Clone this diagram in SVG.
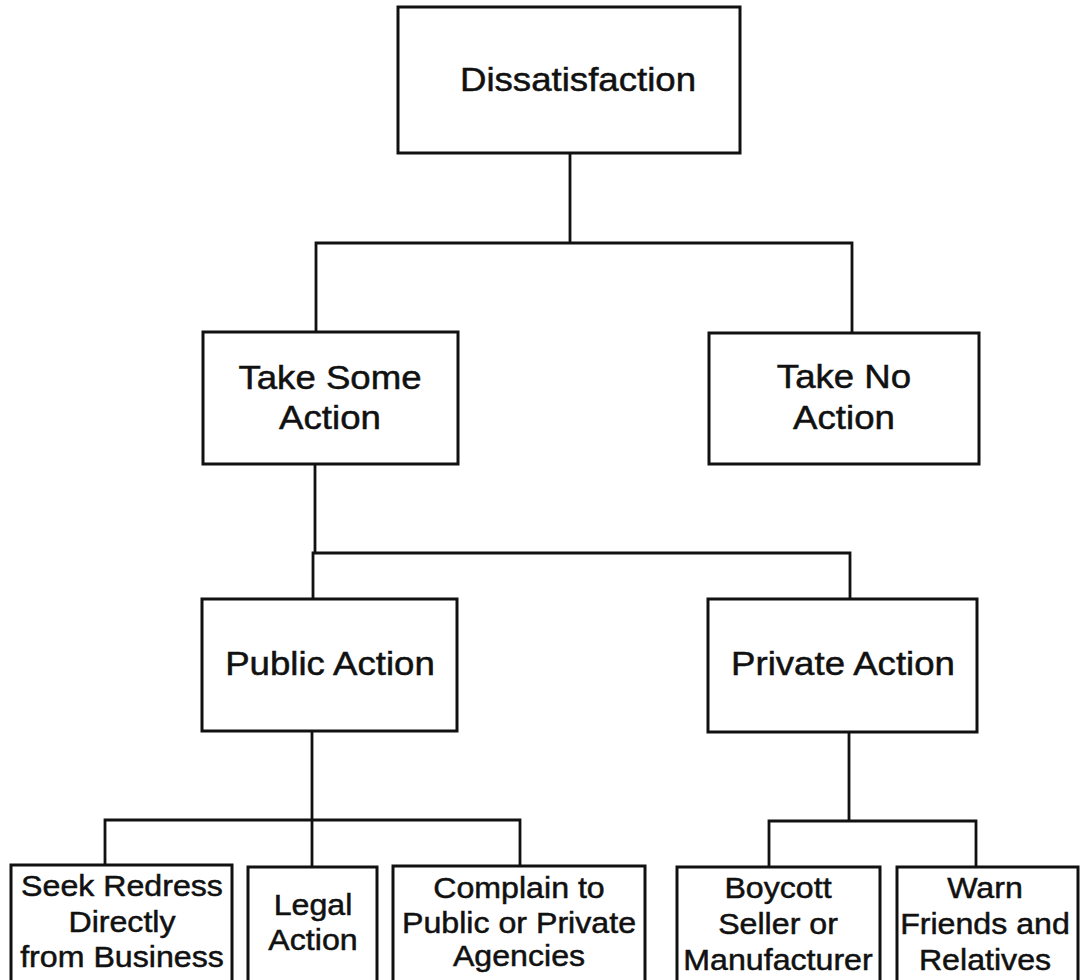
<svg xmlns="http://www.w3.org/2000/svg" width="1082" height="980" viewBox="0 0 1082 980">
  <style>
    .box { fill: #ffffff; stroke: #111111; stroke-width: 3; }
    .link { fill: none; stroke: #111111; stroke-width: 2.8; stroke-linejoin: miter; stroke-linecap: square; }
    .lbl { font-family: "Liberation Sans", Arial, sans-serif; fill: #111111; stroke: #111111; stroke-width: 0.5; text-anchor: middle; }
    .big { font-size: 33px; }
    .small { font-size: 29.5px; }
  </style>
  <rect x="0" y="0" width="1082" height="980" fill="#ffffff"/>

  <!-- connectors (elbow lines between levels) -->
  <g id="connectors">
    <path class="link" d="M570,153 V243 M316,243 H852 M316,243 V332 M852,243 V333"/>
    <path class="link" d="M315,464 V553 M313,553 H850 M313,553 V599 M850,553 V599"/>
    <path class="link" d="M312,731 V820 M105,820 H520 M105,820 V865 M312,820 V867 M520,820 V866"/>
    <path class="link" d="M849,732 V821 M769,821 H976 M769,821 V867 M976,821 V867"/>
  </g>

  <g id="dissatisfaction">
    <rect class="box" x="398" y="7" width="342" height="146"/>
    <text class="lbl big" transform="translate(578,0) scale(1.11,1)" x="0" y="91">Dissatisfaction</text>
  </g>

  <g id="take-some-action">
    <rect class="box" x="203" y="332" width="255" height="132"/>
    <text class="lbl big" transform="translate(330,0) scale(1.11,1)" x="0" y="389">Take Some</text>
    <text class="lbl big" transform="translate(330,0) scale(1.11,1)" x="0" y="429">Action</text>
  </g>

  <g id="take-no-action">
    <rect class="box" x="709" y="333" width="270" height="131"/>
    <text class="lbl big" transform="translate(844,0) scale(1.11,1)" x="0" y="388">Take No</text>
    <text class="lbl big" transform="translate(844,0) scale(1.11,1)" x="0" y="429">Action</text>
  </g>

  <g id="public-action">
    <rect class="box" x="202" y="599" width="255" height="132"/>
    <text class="lbl big" transform="translate(330,0) scale(1.11,1)" x="0" y="675">Public Action</text>
  </g>

  <g id="private-action">
    <rect class="box" x="708" y="599" width="269" height="133"/>
    <text class="lbl big" transform="translate(843,0) scale(1.11,1)" x="0" y="675">Private Action</text>
  </g>

  <g id="seek-redress">
    <rect class="box" x="11" y="865" width="221" height="130"/>
    <text class="lbl small" transform="translate(122,0) scale(1.09,1)" x="0" y="896">Seek Redress</text>
    <text class="lbl small" transform="translate(122,0) scale(1.09,1)" x="0" y="932">Directly</text>
    <text class="lbl small" transform="translate(122,0) scale(1.09,1)" x="0" y="967">from Business</text>
  </g>

  <g id="legal-action">
    <rect class="box" x="248" y="867" width="129" height="130"/>
    <text class="lbl small" transform="translate(313,0) scale(1.09,1)" x="0" y="915">Legal</text>
    <text class="lbl small" transform="translate(313,0) scale(1.09,1)" x="0" y="950">Action</text>
  </g>

  <g id="complain-agencies">
    <rect class="box" x="393" y="866" width="252" height="130"/>
    <text class="lbl small" transform="translate(519,0) scale(1.09,1)" x="0" y="898">Complain to</text>
    <text class="lbl small" transform="translate(519,0) scale(1.09,1)" x="0" y="933">Public or Private</text>
    <text class="lbl small" transform="translate(519,0) scale(1.09,1)" x="0" y="966">Agencies</text>
  </g>

  <g id="boycott">
    <rect class="box" x="677" y="867" width="203" height="130"/>
    <text class="lbl small" transform="translate(778,0) scale(1.09,1)" x="0" y="898">Boycott</text>
    <text class="lbl small" transform="translate(778,0) scale(1.09,1)" x="0" y="934">Seller or</text>
    <text class="lbl small" transform="translate(778,0) scale(1.09,1)" x="0" y="970">Manufacturer</text>
  </g>

  <g id="warn-friends">
    <rect class="box" x="897" y="867" width="181" height="130"/>
    <text class="lbl small" transform="translate(985,0) scale(1.09,1)" x="0" y="898">Warn</text>
    <text class="lbl small" transform="translate(985,0) scale(1.09,1)" x="0" y="934">Friends and</text>
    <text class="lbl small" transform="translate(985,0) scale(1.09,1)" x="0" y="970">Relatives</text>
  </g>
</svg>
